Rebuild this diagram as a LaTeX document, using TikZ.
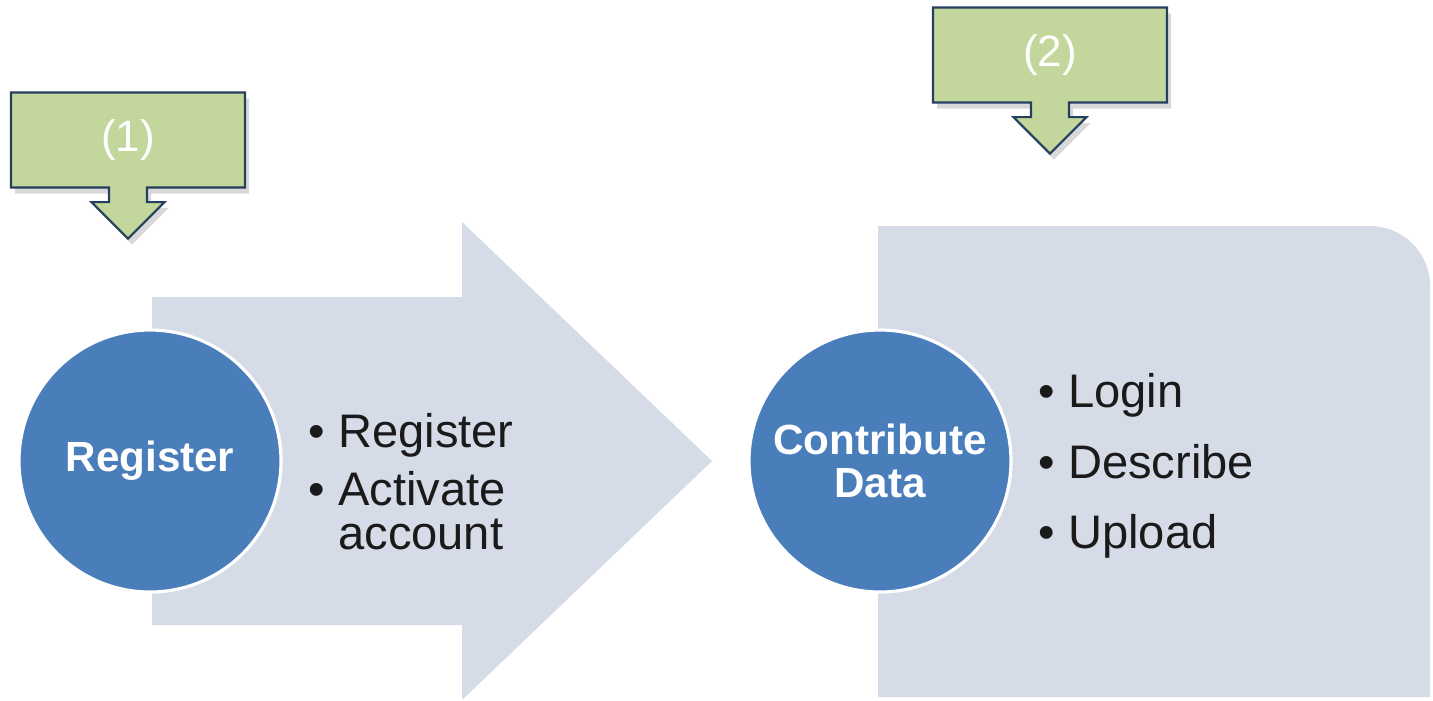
\documentclass[tikz,border=0pt]{standalone}
\usepackage{fontspec}
\setmainfont{Liberation Sans}
\usetikzlibrary{positioning,shapes.arrows,shadows}
\definecolor{ink}{HTML}{1A1A1A}
\definecolor{navy}{HTML}{243F60}
\definecolor{sage}{HTML}{C3D69B}
\definecolor{steel}{HTML}{4A7EBB}
\definecolor{mist}{HTML}{D5DBE7}

\begin{document}
\begin{tikzpicture}[x=0.1mm, y=-0.1mm,
    callout/.style={arrow box, draw=navy, line width=0.6pt, fill=sage, text=white,
      minimum width=23.4mm, minimum height=9.5mm, inner sep=0pt,
      arrow box shaft width=3.8mm, arrow box head extend=1.75mm, arrow box tip angle=90,
      arrow box arrows={south:5mm}, font=\fontsize{12.5}{15}\selectfont,
      drop shadow={opacity=0.3, shadow xshift=0.4mm, shadow yshift=-0.6mm}},
    stage/.style={circle, fill=steel, draw=white, line width=0.9pt, minimum size=26.2mm,
      inner sep=0pt, text=white, align=center, font=\bfseries\fontsize{12}{12.3}\selectfont},
    item/.style={anchor=base west, inner sep=0pt, text=ink,
      font=\fontsize{13.4}{16}\selectfont}]
  \useasboundingbox (0,0) rectangle (1433,700);
  % big arrow and the rounded panel behind the stages
  \fill[mist] (152,297) -- (462,297) -- (462,222) -- (712,461) -- (462,700)
    -- (462,625) -- (152,625) -- cycle;
  \fill[mist] (878,697) -- (878,226) -- (1370,226) arc[start angle=-90, end angle=0, radius=60]
    -- (1430,697) -- cycle;
  % stages
  \node[stage] (reg) at (150,461) {Register};
  \node[stage] (contrib) at (880,461) {Contribute\\Data};
  % bullet items
  \node[item] (regA) at (308,447) {\textbullet\ Register};
  \node[item] (regB) at (308,505) {\textbullet\ Activate};
  \node[item] (regC) at (308,549) {\phantom{\textbullet\ }account};
  \node[item] (conA) at (1038,407) {\textbullet\ Login};
  \node[item] (conB) at (1038,478) {\textbullet\ Describe};
  \node[item] (conC) at (1038,548) {\textbullet\ Upload};
  % step markers
  \node[callout] (one) at (128,140) {(1)};
  \node[callout] (two) at (1050,55) {(2)};
\end{tikzpicture}
\end{document}
